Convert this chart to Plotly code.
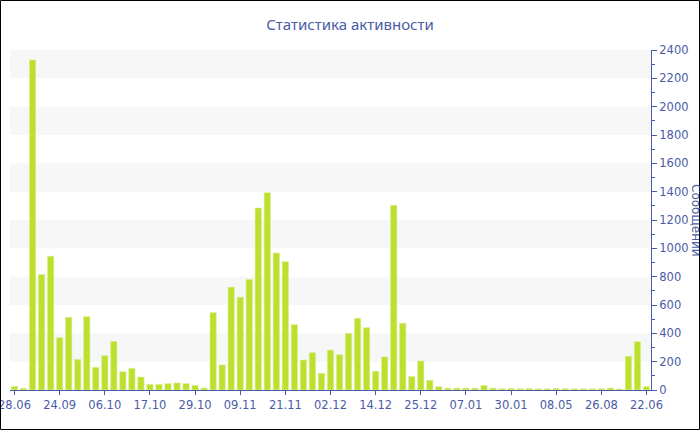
import plotly.graph_objects as go

# --- data -------------------------------------------------------------
bar_index = list(range(71))
messages = [
    25, 12, 2330, 815, 945, 370, 513, 216, 518, 160,
    242, 343, 129, 153, 92, 40, 40, 45, 50, 45,
    33, 14, 546, 177, 726, 655, 781, 1285, 1393, 967,
    906, 462, 212, 264, 118, 282, 249, 400, 506, 440,
    132, 233, 1304, 471, 95, 205, 68, 23, 13, 13,
    13, 13, 32, 13, 9, 11, 9, 10, 8, 8,
    10, 9, 8, 8, 8, 9, 14, 7, 238, 341, 24,
]
tick_positions = [0, 5, 10, 15, 20, 25, 30, 35, 40, 45, 50, 55, 60, 65, 70]
tick_labels = ["28.06", "24.09", "06.10", "17.10", "29.10", "09.11", "21.11",
               "02.12", "14.12", "25.12", "07.01", "30.01", "08.05", "26.08", "22.06"]
stripe_bands = [(200, 400), (600, 800), (1000, 1200), (1400, 1600), (1800, 2000), (2200, 2400)]

title_text = "Статистика активности"
y_title = "Сообщений"

BLUE = "#4a5ca6"
BAR = "#bde02f"

fig = go.Figure()
fig.add_trace(go.Bar(
    x=bar_index, y=messages,
    marker=dict(color=BAR, line=dict(color="#dcef96", width=0.6)),
    width=0.7,
    hoverinfo="x+y",
))

shapes = []
for lo, hi in stripe_bands:
    shapes.append(dict(type="rect", xref="paper", yref="y", x0=0, x1=1, y0=lo, y1=hi,
                       fillcolor="#f7f7f7", line=dict(width=0), layer="below"))

# outer border of the picture
L, R, T, B = 10, 49, 50, 40
W, H = 700, 430
pw, ph = W - L - R, H - T - B
shapes.append(dict(type="rect", xref="paper", yref="paper",
                   x0=(0.5 - L) / pw, x1=(W - 0.5 - L) / pw,
                   y0=(T + ph - (H - 0.5)) / ph, y1=(T + ph - 0.5) / ph,
                   line=dict(color="black", width=1), fillcolor="rgba(0,0,0,0)"))

fig.update_layout(
    width=W, height=H,
    margin=dict(l=L, r=R, t=T, b=B, autoexpand=False),
    paper_bgcolor="white", plot_bgcolor="white",
    showlegend=False,
    title=dict(text=title_text, x=0.5, xref="container", xanchor="center",
               y=1 - 25 / H, yref="container", yanchor="middle",
               font=dict(family="Noto Sans", size=15, color=BLUE)),
    shapes=shapes,
    font=dict(family="DejaVu Sans", size=11.5, color=BLUE),
    annotations=[dict(text=y_title, xref="paper", yref="paper",
                      x=(696 - L) / pw, y=0.5, textangle=90, showarrow=False,
                      xanchor="center", yanchor="middle",
                      font=dict(family="DejaVu Sans", size=12, color=BLUE))],
)

fig.update_xaxes(
    range=[-0.5, 70.5], tickmode="array", tickvals=tick_positions, ticktext=tick_labels,
    showline=True, linecolor=BLUE, linewidth=1,
    ticks="outside", ticklen=4, tickcolor=BLUE,
    showgrid=False, zeroline=False, ticklabeloverflow="allow", automargin=False,
    tickfont=dict(family="DejaVu Sans", size=11.5, color=BLUE),
)
fig.update_yaxes(
    side="right", range=[0, 2400], dtick=200, tick0=0,
    showline=True, linecolor=BLUE, linewidth=1,
    ticks="outside", ticklen=5, tickcolor=BLUE,
    minor=dict(dtick=100, ticks="outside", ticklen=3, tickcolor=BLUE),
    showgrid=False, zeroline=False, automargin=False,
    tickfont=dict(family="DejaVu Sans", size=11.5, color=BLUE),
)

fig.write_html("out.html",
               config={"displayModeBar": False},
               post_script="document.body.style.margin='0';document.body.style.overflow='hidden';")
